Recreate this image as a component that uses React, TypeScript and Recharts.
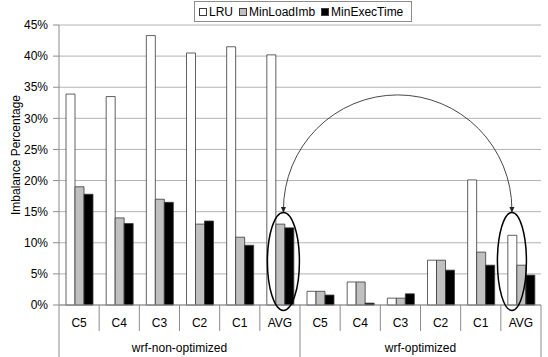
import React from 'react';
import {
  BarChart,
  Bar,
  XAxis,
  YAxis,
  CartesianGrid,
  Legend,
  ReferenceDot,
  ReferenceLine,
  Label,
} from 'recharts';

// ---------- data ----------
const subCategories = ['C5', 'C4', 'C3', 'C2', 'C1', 'AVG'];
const groupNames = ['wrf-non-optimized', 'wrf-optimized'];
const groupKeys = ['n', 'o'];
const seriesNames = ['LRU', 'MinLoadImb', 'MinExecTime'];

const lruNonOpt = [33.9, 33.5, 43.3, 40.5, 41.5, 40.2];
const loadNonOpt = [19.0, 14.0, 17.0, 13.0, 10.9, 13.0];
const execNonOpt = [17.8, 13.1, 16.5, 13.5, 9.6, 12.4];

const lruOpt = [2.2, 3.7, 1.1, 7.2, 20.1, 11.2];
const loadOpt = [2.2, 3.7, 1.1, 7.2, 8.5, 6.4];
const execOpt = [1.6, 0.3, 1.8, 5.6, 6.4, 4.8];

const yTicks = [0, 5, 10, 15, 20, 25, 30, 35, 40, 45];

// annotation anchors (data units)
const ellipseCenterValue = 7.0;
const arcEndValue = 14.8;

const data = groupKeys.flatMap((g, gi) =>
  subCategories.map((c, ci) => ({
    key: `${g}-${c}`,
    label: c,
    group: groupNames[gi],
    LRU: gi === 0 ? lruNonOpt[ci] : lruOpt[ci],
    MinLoadImb: gi === 0 ? loadNonOpt[ci] : loadOpt[ci],
    MinExecTime: gi === 0 ? execNonOpt[ci] : execOpt[ci],
  }))
);

// ---------- layout / style ----------
const W = 548;
const H = 357;
const MARGIN = { top: 25, right: 7, left: 0, bottom: 0 };
const Y_AXIS_W = 59;
const X_AXIS_H = 52;
const N = data.length;
const BAND = (W - MARGIN.left - MARGIN.right - Y_AXIS_W) / N;
const HALF_BAND = BAND / 2;
const FONT = '"Liberation Sans", Arial, Helvetica, sans-serif';
const AXIS_GRAY = '#8c8c8c';
const GRID_GRAY = '#b3b3b3';
const BAR_STROKE = '#3a3a3a';
const colors = ['#ffffff', '#c0c0c0', '#000000'];

const XTick = (props: any) => {
  const { x, y, payload, index } = props;
  const item = data[index] || data.find((d) => d.key === payload.value);
  const isGroupStart = index % subCategories.length === 0;
  const left = x - HALF_BAND;
  const right = x + HALF_BAND;
  return (
    <g>
      <line
        x1={left}
        x2={left}
        y1={y}
        y2={y + (isGroupStart ? X_AXIS_H : 26)}
        stroke={AXIS_GRAY}
        strokeWidth={1}
      />
      {index === N - 1 && (
        <line x1={right} x2={right} y1={y} y2={y + X_AXIS_H} stroke={AXIS_GRAY} strokeWidth={1} />
      )}
      <text x={x} y={y + 22} textAnchor="middle" fontSize={12} fontFamily={FONT} fill="#000">
        {item ? item.label : ''}
      </text>
      {isGroupStart && item && (
        <text
          x={left + (subCategories.length * BAND) / 2}
          y={y + 47}
          textAnchor="middle"
          fontSize={12}
          fontFamily={FONT}
          fill="#000"
        >
          {item.group}
        </text>
      )}
    </g>
  );
};

const YLabel = (props: any) => {
  const vb = props.viewBox || { x: 0, y: 0, width: 0, height: 0 };
  const cx = vb.x + 16;
  const cy = vb.y + vb.height / 2 - 10;
  return (
    <text
      x={cx}
      y={cy}
      transform={`rotate(-90, ${cx}, ${cy})`}
      textAnchor="middle"
      dominantBaseline="central"
      fontSize={12}
      fontFamily={FONT}
      fill="#000"
    >
      Imbalance Percentage
    </text>
  );
};

const LegendBox = () => (
  <div
    style={{
      boxSizing: 'border-box',
      width: 218,
      height: 21,
      border: '1px solid #8c8c8c',
      background: '#fff',
      display: 'flex',
      alignItems: 'center',
      paddingLeft: 4,
      fontFamily: FONT,
      fontSize: 12,
      color: '#000',
      whiteSpace: 'nowrap',
    }}
  >
    {seriesNames.map((name, i) => (
      <div key={name} style={{ display: 'flex', alignItems: 'center', marginRight: 6 }}>
        <span
          style={{
            display: 'inline-block',
            boxSizing: 'border-box',
            width: 8,
            height: 8,
            background: colors[i],
            border: `1px solid ${BAR_STROKE}`,
            marginRight: 2,
          }}
        />
        <span>{name}</span>
      </div>
    ))}
  </div>
);

const EllipseShape = (dx: number, rx: number, ry: number) => (p: any) =>
  (
    <ellipse
      cx={p.cx + dx}
      cy={p.cy}
      rx={rx}
      ry={ry}
      fill="none"
      stroke="#000"
      strokeWidth={1.5}
    />
  );

const ArcShape = (dx1: number, dx2: number, ry: number) => (p: any) => {
  const x1 = p.x1 + dx1;
  const x2 = p.x2 + dx2;
  const y1 = p.y1;
  const y2 = p.y2;
  const rx = (x2 - x1) / 2;
  const ah = 6;
  const aw = 2.5;
  return (
    <g>
      <path
        d={`M ${x1} ${y1 - 3} A ${rx} ${ry} 0 0 1 ${x2} ${y2 - 3}`}
        fill="none"
        stroke="#333"
        strokeWidth={0.9}
      />
      <polygon points={`${x1 - aw},${y1 - ah} ${x1 + aw},${y1 - ah} ${x1},${y1}`} fill="#222" />
      <polygon points={`${x2 - aw},${y2 - ah} ${x2 + aw},${y2 - ah} ${x2},${y2}`} fill="#222" />
    </g>
  );
};

export default function App() {
  return (
    <div style={{ position: 'absolute', left: 0, top: 0, width: W, height: H, background: '#fff' }}>
      <BarChart
        width={W}
        height={H}
        data={data}
        margin={MARGIN}
        barGap={0}
        barSize={9}
      >
        <CartesianGrid horizontal vertical={false} stroke={GRID_GRAY} strokeWidth={1} />
        <XAxis
          dataKey="key"
          type="category"
          interval={0}
          height={X_AXIS_H}
          tickSize={0}
          tickMargin={0}
          tickLine={false}
          axisLine={{ stroke: AXIS_GRAY, strokeWidth: 1 }}
          tick={<XTick />}
        />
        <YAxis
          width={Y_AXIS_W}
          domain={[0, 45]}
          ticks={yTicks}
          interval={0}
          tickFormatter={(v: number) => `${v}%`}
          tickSize={6}
          tickMargin={5}
          tickLine={{ stroke: AXIS_GRAY }}
          axisLine={{ stroke: AXIS_GRAY, strokeWidth: 1 }}
          tick={{ fontSize: 12, fontFamily: FONT, fill: '#000' }}
        >
          <Label content={<YLabel />} />
        </YAxis>
        <YAxis
          yAxisId="frame"
          orientation="right"
          width={0}
          domain={[0, 45]}
          tick={false}
          tickLine={false}
          axisLine={{ stroke: '#999', strokeWidth: 1.5 }}
        />
        <Legend
          layout="horizontal"
          verticalAlign="middle"
          align="center"
          content={<LegendBox />}
          wrapperStyle={{ top: 1, left: 194, width: 218, height: 21 }}
        />
        {seriesNames.map((name, i) => (
          <Bar
            key={name}
            dataKey={name}
            fill={colors[i]}
            stroke={BAR_STROKE}
            strokeWidth={0.8}
            isAnimationActive={false}
          />
        ))}
        <ReferenceDot
          x="n-AVG"
          y={ellipseCenterValue}
          ifOverflow="visible"
          shape={EllipseShape(3.5, 16, 49)}
        />
        <ReferenceDot
          x="o-AVG"
          y={ellipseCenterValue}
          ifOverflow="visible"
          shape={EllipseShape(-9, 14.5, 49)}
        />
        <ReferenceLine
          segment={[
            { x: 'n-AVG', y: arcEndValue },
            { x: 'o-AVG', y: arcEndValue },
          ]}
          ifOverflow="visible"
          shape={ArcShape(3.5, -9, 115)}
        />
      </BarChart>
    </div>
  );
}
